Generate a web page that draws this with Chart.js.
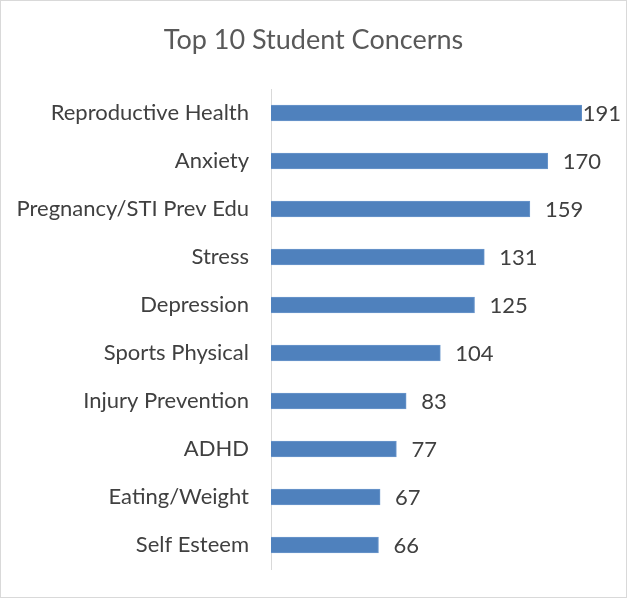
<!DOCTYPE html>
<html>
<head>
<meta charset="utf-8">
<script src="https://cdn.jsdelivr.net/npm/chart.js@4"></script>
<style>
  html, body { margin: 0; padding: 0; background: #fff; }
  canvas { display: block; }
</style>
</head>
<body>
<canvas id="chart" width="627" height="598"></canvas>
<script>
const chartTitle = 'Top 10 Student Concerns';
const categories = ['Reproductive Health', 'Anxiety', 'Pregnancy/STI Prev Edu', 'Stress', 'Depression',
    'Sports Physical', 'Injury Prevention', 'ADHD', 'Eating/Weight', 'Self Esteem'];
const counts = [191, 170, 159, 131, 125, 104, 83, 77, 67, 66];

const FONT = "Lato, 'Open Sans', sans-serif";
const TEXT = '#404040';

// white background, thin grey frame and the title centred on the whole canvas
// (the built-in title gets shifted by the right padding, so it's drawn here)
const frame = {
    id: 'frame',
    beforeDraw(chart) {
        const ctx = chart.ctx;
        ctx.save();
        ctx.fillStyle = '#fff';
        ctx.fillRect(0, 0, chart.width, chart.height);
        ctx.strokeStyle = '#d9d9d9';
        ctx.lineWidth = 1;
        ctx.strokeRect(0.5, 0.5, chart.width - 1, chart.height - 1);
        ctx.font = '27px ' + FONT;
        ctx.fillStyle = '#595959';
        ctx.textAlign = 'center';
        ctx.textBaseline = 'middle';
        ctx.fillText(chartTitle, chart.width / 2, 40);
        ctx.restore();
    }
};

// value labels after each bar, pushed back inside when they would overflow
const valueLabels = {
    id: 'valueLabels',
    afterDatasetsDraw(chart) {
        const ctx = chart.ctx;
        const meta = chart.getDatasetMeta(0);
        ctx.save();
        ctx.font = '22px ' + FONT;
        ctx.fillStyle = TEXT;
        ctx.textBaseline = 'middle';
        meta.data.forEach((bar, i) => {
            const txt = String(counts[i]);
            const w = ctx.measureText(txt).width;
            const x = Math.min(bar.x + 15, chart.width - w - 6);
            ctx.fillText(txt, x, bar.y + 1);
        });
        ctx.restore();
    }
};

new Chart(document.getElementById('chart'), {
    type: 'bar',
    data: {
        labels: categories,
        datasets: [{
            data: counts,
            backgroundColor: '#4f81bd',
            borderColor: '#6b97cc',
            borderWidth: 1,
            barThickness: 16
        }]
    },
    options: {
        indexAxis: 'y',
        responsive: false,
        animation: false,
        layout: { padding: { left: 0, right: 45, top: 89, bottom: 29 } },
        plugins: {
            legend: { display: false },
            tooltip: { enabled: false },
            title: { display: false }
        },
        scales: {
            x: { display: false, min: 0, max: 191 },
            y: {
                afterFit(scale) {
                    scale.width = 271;
                    // tick padding would otherwise eat into the bottom row
                    scale.paddingTop = 0;
                    scale.paddingBottom = 0;
                },
                grid: { display: false, drawTicks: false },
                border: { display: true, color: '#d9d9d9', width: 1 },
                ticks: {
                    color: TEXT,
                    padding: 22,
                    font: { family: FONT, size: 22 }
                }
            }
        }
    },
    plugins: [frame, valueLabels]
});
</script>
</body>
</html>
